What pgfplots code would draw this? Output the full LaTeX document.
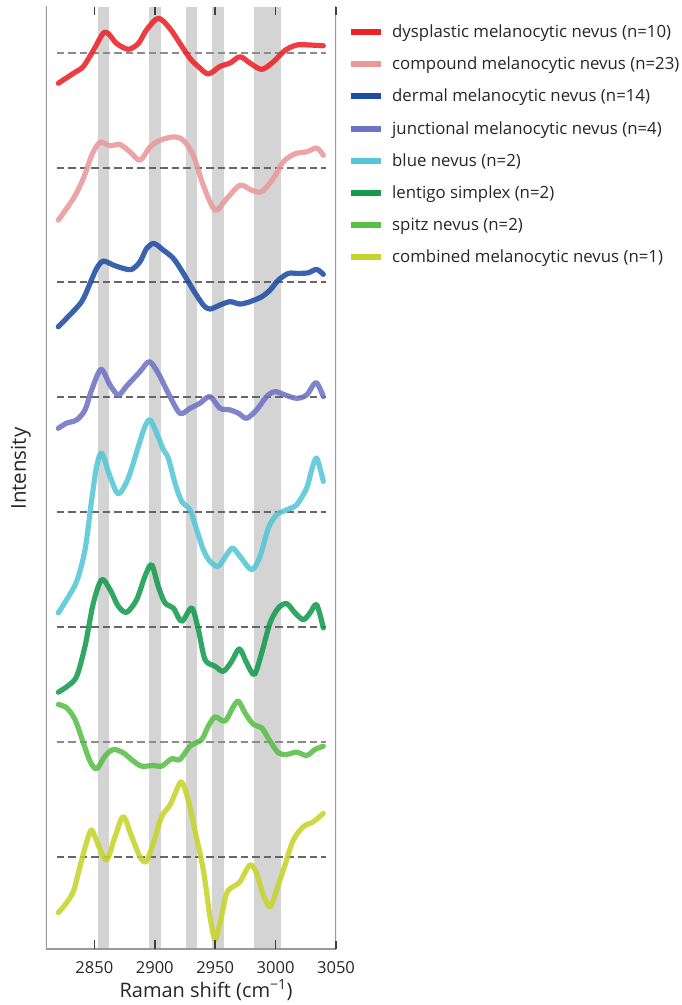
\documentclass[border=0pt]{standalone}
\usepackage{fontspec}
\setmainfont{Open Sans}
\usepackage{pgfplots}
\pgfplotsset{compat=1.18}
\definecolor{cRed}{HTML}{EC2228}
\definecolor{cPink}{HTML}{E8999A}
\definecolor{cBlue}{HTML}{1F4DA3}
\definecolor{cPurple}{HTML}{6E74C4}
\definecolor{cCyan}{HTML}{55C6D6}
\definecolor{cGreen}{HTML}{159B4E}
\definecolor{cLGreen}{HTML}{58BF47}
\definecolor{cYellow}{HTML}{C6D32B}
\definecolor{bandg}{HTML}{D4D4D4}
\definecolor{frameg}{HTML}{9A9A9A}
\definecolor{dashg}{HTML}{666666}
\definecolor{tickg}{HTML}{404040}
\begin{document}
\begin{tikzpicture}
\useasboundingbox (0,0) rectangle (682pt,1005pt);
\begin{axis}[
  at={(46pt,56pt)}, anchor=south west,
  scale only axis, width=290pt, height=942pt,
  xmin=2810, xmax=3050, ymin=-0.804, ymax=7.398,
  xtick={2850,2900,2950,3000,3050},
  ytick=\empty,
  axis on top,
  tick align=inside, xtick pos=both, xticklabel pos=bottom,
  major tick length=8pt,
  axis line style={draw=none},
  xtick style={draw=tickg, line width=1.5pt},
  /pgf/number format/assume math mode=true,
  /pgf/number format/1000 sep={},
  xticklabel style={font=\fontsize{16.5}{16.5}\selectfont, color=black!85, yshift=-9pt},
  xlabel={Raman shift (cm\textsuperscript{−1})},
  xlabel style={font=\fontsize{20}{20}\selectfont, color=black!85, at={(axis description cs:0.552,0)}, anchor=north, yshift=-27pt},
  ylabel={Intensity},
  ylabel style={font=\fontsize{20.5}{20.5}\selectfont, color=black!85, at={(axis description cs:-0.087,0.51)}, anchor=center},
  legend style={at={(axis description cs:1,1)}, anchor=north west, xshift=12pt, yshift=-17.5pt,
    draw=none, fill=none, inner sep=0pt, row sep=18pt, column sep=8pt,
    font=\fontsize{16.8}{16.8}\selectfont, nodes={inner sep=0pt, text=black!85}},
  legend cell align=left,
  legend image code/.code={\draw[line width=6pt, line cap=butt, opacity=1] (0pt,0pt) -- (30pt,0pt);},
  every axis plot/.append style={line width=5.2pt, line cap=round, line join=round, smooth, opacity=0.88},
]
% bands
\addplot[draw=none, fill=bandg, opacity=1, forget plot, sharp plot] coordinates {(2853.3,-0.804) (2862.4,-0.804) (2862.4,7.398) (2853.3,7.398)} -- cycle;
\addplot[draw=none, fill=bandg, opacity=1, forget plot, sharp plot] coordinates {(2895.4,-0.804) (2904.8,-0.804) (2904.8,7.398) (2895.4,7.398)} -- cycle;
\addplot[draw=none, fill=bandg, opacity=1, forget plot, sharp plot] coordinates {(2925.5,-0.804) (2934.9,-0.804) (2934.9,7.398) (2925.5,7.398)} -- cycle;
\addplot[draw=none, fill=bandg, opacity=1, forget plot, sharp plot] coordinates {(2947.3,-0.804) (2957.0,-0.804) (2957.0,7.398) (2947.3,7.398)} -- cycle;
\addplot[draw=none, fill=bandg, opacity=1, forget plot, sharp plot] coordinates {(2981.8,-0.804) (3004.5,-0.804) (3004.5,7.398) (2981.8,7.398)} -- cycle;
% baselines
\addplot[dashg!75, line width=1.9pt, dash pattern=on 7.5pt off 4pt, opacity=1, sharp plot, line cap=butt, forget plot] coordinates {(2819,7) (3042,7)};
\addplot[dashg, line width=1.9pt, dash pattern=on 7.5pt off 4pt, opacity=1, sharp plot, line cap=butt, forget plot] coordinates {(2819,6) (3042,6)};
\addplot[dashg, line width=1.9pt, dash pattern=on 7.5pt off 4pt, opacity=1, sharp plot, line cap=butt, forget plot] coordinates {(2819,5) (3042,5)};
\addplot[dashg, line width=1.9pt, dash pattern=on 7.5pt off 4pt, opacity=1, sharp plot, line cap=butt, forget plot] coordinates {(2819,4) (3042,4)};
\addplot[dashg, line width=1.9pt, dash pattern=on 7.5pt off 4pt, opacity=1, sharp plot, line cap=butt, forget plot] coordinates {(2819,3) (3042,3)};
\addplot[dashg, line width=1.9pt, dash pattern=on 7.5pt off 4pt, opacity=1, sharp plot, line cap=butt, forget plot] coordinates {(2819,2) (3042,2)};
\addplot[dashg!75, line width=1.9pt, dash pattern=on 7.5pt off 4pt, opacity=1, sharp plot, line cap=butt, forget plot] coordinates {(2819,1) (3042,1)};
\addplot[dashg, line width=1.9pt, dash pattern=on 7.5pt off 4pt, opacity=1, sharp plot, line cap=butt, forget plot] coordinates {(2819,0) (3042,0)};
% red
\addplot[cRed] table[y expr=\thisrow{y}+7] {
x y
2820.2 -0.266
2832.6 -0.18
2840.9 -0.12
2849.2 0.02
2858.8 0.18
2868.5 0.08
2878.1 0.03
2886.4 0.08
2893.3 0.2
2903.0 0.30
2912.6 0.21
2920.9 0.08
2929.2 -0.05
2936.0 -0.12
2944.3 -0.185
2954.0 -0.12
2962.3 -0.09
2970.6 -0.035
2978.8 -0.09
2988.5 -0.145
2998.1 -0.08
3007.8 0.02
3017.5 0.067
3028.5 0.067
3039.5 0.06
};
\addlegendentry{dysplastic melanocytic nevus (n=10)}
% pink
\addplot[cPink] table[y expr=\thisrow{y}+6] {
x y
2820.2 -0.458
2832.6 -0.27
2840.9 -0.096
2847.8 0.107
2854.7 0.22
2863.0 0.19
2871.2 0.20
2879.5 0.137
2887.8 0.064
2896.1 0.18
2904.3 0.237
2915.4 0.267
2923.6 0.237
2931.9 0.107
2940.2 -0.154
2949.9 -0.37
2959.6 -0.27
2970.6 -0.154
2980.2 -0.197
2988.5 -0.21
2998.1 -0.096
3006.4 0.05
3016.1 0.12
3025.8 0.137
3034.0 0.17
3039.5 0.107
};
\addlegendentry{compound melanocytic nevus (n=23)}
% blue
\addplot[cBlue] table[y expr=\thisrow{y}+5] {
x y
2820.2 -0.386
2827.0 -0.313
2839.5 -0.168
2846.4 -0.009
2851.9 0.122
2857.4 0.186
2865.7 0.151
2874.0 0.122
2880.9 0.113
2887.8 0.18
2893.3 0.296
2899.4 0.339
2907.1 0.281
2915.4 0.209
2923.7 0.078
2931.9 -0.067
2940.2 -0.197
2945.7 -0.232
2954.0 -0.197
2962.3 -0.168
2970.6 -0.188
2978.8 -0.168
2988.5 -0.125
2995.4 -0.067
3002.3 0.020
3010.6 0.078
3018.9 0.078
3027.1 0.084
3034.0 0.113
3039.5 0.07
};
\addlegendentry{dermal melanocytic nevus (n=14)}
% purple
\addplot[cPurple] table[y expr=\thisrow{y}+4] {
x y
2820.2 -0.27
2827.0 -0.226
2835.4 -0.197
2842.3 -0.11
2847.8 0.064
2855.5 0.243
2863.0 0.107
2869.9 0.02
2876.8 0.099
2887.8 0.223
2895.5 0.31
2902.9 0.209
2911.2 0.035
2920.8 -0.139
2929.2 -0.096
2937.4 -0.052
2945.7 0.006
2954.0 -0.096
2962.3 -0.11
2969.2 -0.139
2976.1 -0.183
2984.3 -0.11
2992.6 0.006
2999.5 0.049
3007.8 0.02
3017.5 -0.009
3025.7 0.02
3033.4 0.128
3039.5 0.006
};
\addlegendentry{junctional melanocytic nevus (n=4)}
% cyan
\addplot[cCyan] table[y expr=\thisrow{y}+3] {
x y
2820.2 -0.878
2827.1 -0.762
2835.4 -0.603
2842.3 -0.328
2847.8 0.107
2851.9 0.397
2856.1 0.513
2863.0 0.31
2869.9 0.159
2878.1 0.296
2886.4 0.571
2891.9 0.745
2896.1 0.803
2901.6 0.687
2907.2 0.542
2911.2 0.47
2916.8 0.252
2922.3 0.093
2929.2 0.02
2934.7 -0.154
2940.2 -0.328
2945.7 -0.429
2952.6 -0.472
2959.5 -0.371
2964.5 -0.313
2970.6 -0.386
2980.2 -0.501
2987.1 -0.386
2994.0 -0.139
3000.9 -0.023
3009.2 0.02
3017.4 0.064
3025.7 0.209
3029.9 0.368
3034.0 0.47
3039.5 0.267
};
\addlegendentry{blue nevus (n=2)}
% green
\addplot[cGreen] table[y expr=\thisrow{y}+2] {
x y
2820.2 -0.568
2828.5 -0.51
2835.4 -0.429
2842.3 -0.168
2849.2 0.209
2856.1 0.412
2863.0 0.325
2869.9 0.18
2876.8 0.128
2885.0 0.238
2891.9 0.441
2897.4 0.542
2902.9 0.354
2908.5 0.209
2915.4 0.165
2922.3 0.049
2930.6 0.165
2936.1 -0.023
2941.6 -0.284
2949.9 -0.342
2956.8 -0.386
2963.7 -0.299
2970.0 -0.191
2976.1 -0.313
2982.4 -0.414
2988.5 -0.226
2995.4 0.035
3002.3 0.165
3009.2 0.203
3016.1 0.122
3023.0 0.064
3028.5 0.122
3034.0 0.194
3039.5 -0.009
};
\addlegendentry{lentigo simplex (n=2)}
% light green
\addplot[cLGreen] table[y expr=\thisrow{y}+1] {
x y
2820.2 0.325
2827.1 0.296
2834.0 0.194
2840.9 -0.009
2846.4 -0.168
2851.9 -0.235
2858.8 -0.125
2865.7 -0.067
2874.0 -0.096
2882.3 -0.168
2889.2 -0.212
2898.8 -0.206
2905.7 -0.212
2914.0 -0.148
2920.8 -0.154
2929.2 -0.038
2938.8 0.02
2944.3 0.136
2949.9 0.217
2958.1 0.18
2964.5 0.296
2969.2 0.354
2974.7 0.252
2981.6 0.151
2988.5 0.122
2995.4 0.006
3002.3 -0.096
3009.2 -0.11
3017.4 -0.09
3025.7 -0.119
3032.6 -0.067
3039.5 -0.038
};
\addlegendentry{spitz nevus (n=2)}
% yellow
\addplot[cYellow] table[y expr=\thisrow{y}+0] {
x y
2820.2 -0.487
2825.7 -0.42
2832.6 -0.304
2838.1 -0.087
2843.7 0.13
2847.8 0.232
2853.2 0.101
2860.2 -0.029
2867.1 0.174
2874.0 0.348
2880.9 0.174
2887.8 0.0
2892.8 -0.043
2898.8 0.116
2905.7 0.348
2912.6 0.449
2918.1 0.58
2922.3 0.652
2927.7 0.493
2933.2 0.232
2940.2 -0.116
2945.7 -0.522
2949.9 -0.725
2954.0 -0.58
2959.5 -0.319
2965.0 -0.261
2970.6 -0.217
2978.8 -0.072
2984.3 -0.145
2989.8 -0.333
2995.4 -0.435
3000.9 -0.29
3007.8 -0.072
3014.7 0.145
3023.0 0.261
3031.3 0.304
3039.5 0.377
};
\addlegendentry{combined melanocytic nevus (n=1)}
% frame: left, bottom, right (no top line)
\draw[frameg, line width=2pt, opacity=1, line cap=rect] (rel axis cs:0,1) -- (rel axis cs:0,0) -- (rel axis cs:1,0) -- (rel axis cs:1,1);
% tick marks (inside, bottom and top)
\pgfplotsinvokeforeach{2850,2900,2950,3000}{
  \draw[tickg, line width=1.5pt, opacity=1] (axis cs:#1,-0.804) -- ++(0pt,9pt);
  \draw[tickg, line width=1.5pt, opacity=1] (axis cs:#1,7.398) -- ++(0pt,-8pt);
}
\end{axis}
\end{tikzpicture}
\end{document}
